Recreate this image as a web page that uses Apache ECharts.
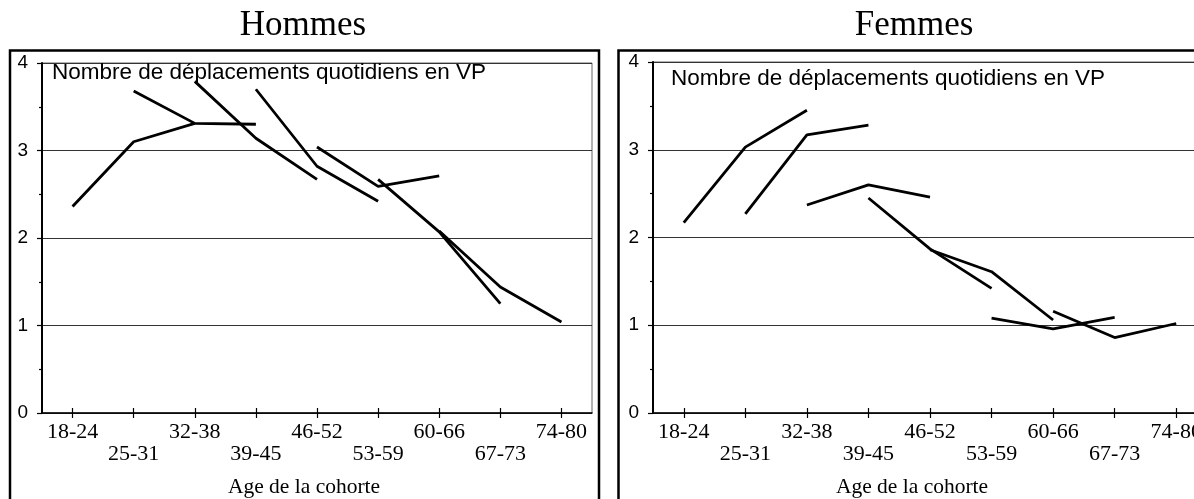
<!DOCTYPE html>
<html><head><meta charset="utf-8">
<script src="https://cdn.jsdelivr.net/npm/echarts@6/dist/echarts.min.js"></script>
<style>html,body{margin:0;padding:0;background:#fff}#c{width:1194px;height:499px}</style>
</head><body><div id="c"></div>
<script>
// Age group categories (x axis)
const ageGroups = ['18-24','25-31','32-38','39-45','46-52','53-59','60-66','67-73','74-80'];
const yMin = 0, yMax = 4, yStep = 1;
const panelTitles = ['Hommes', 'Femmes'];
const innerLabel = 'Nombre de déplacements quotidiens en VP';
const xAxisTitle = 'Age de la cohorte';
// Each cohort is observed over 3 consecutive age groups, starting at its own index
const hommes = [
  [2.36, 3.10, 3.31],
  [3.68, 3.31, 3.30],
  [3.79, 3.14, 2.67],
  [3.70, 2.82, 2.42],
  [3.04, 2.59, 2.71],
  [2.67, 2.07, 1.25],
  [2.08, 1.44, 1.04]
];
const femmes = [
  [2.17, 3.03, 3.45],
  [2.27, 3.17, 3.28],
  [2.37, 2.60, 2.46],
  [2.45, 1.87, 1.42],
  [1.86, 1.61, 1.06],
  [1.08, 0.96, 1.09],
  [1.16, 0.86, 1.02]
];

const SERIF = '"Liberation Serif","Times New Roman",serif';
const SANS = '"Liberation Sans",Arial,sans-serif';

function cohortSeries(cohorts, axisIdx) {
  return cohorts.map((vals, i) => {
    const d = ageGroups.map(() => null);
    vals.forEach((v, k) => { d[i + k] = v; });
    return {
      type: 'line', xAxisIndex: axisIdx, yAxisIndex: axisIdx, data: d,
      symbol: 'none', connectNulls: false, silent: true,
      lineStyle: { color: '#000', width: 2.8 }
    };
  });
}

function mainX(gi) {
  return {
    type: 'category', gridIndex: gi, data: ageGroups, boundaryGap: true,
    axisLine: { show: true, lineStyle: { color: '#000', width: 1.5 } },
    axisTick: { show: true, alignWithLabel: true, length: 5, lineStyle: { color: '#000', width: 1.2 } },
    axisLabel: {
      color: '#000', fontFamily: SERIF, fontSize: 22, lineHeight: 22, margin: 8,
      interval: 0, hideOverlap: false,
      formatter: (v, idx) => (idx % 2 ? '\n' + v : v)
    },
    splitLine: { show: false }
  };
}
function tickX(gi) {
  return {
    type: 'category', gridIndex: gi, data: ageGroups, boundaryGap: true,
    position: 'bottom',
    axisLine: { show: false },
    axisTick: { show: true, inside: true, alignWithLabel: true, length: 5, lineStyle: { color: '#000', width: 1.2 } },
    axisLabel: { show: false }, splitLine: { show: false }
  };
}
function mainY(gi) {
  return {
    type: 'value', gridIndex: gi, min: yMin, max: yMax, interval: yStep,
    axisLine: { show: true, lineStyle: { color: '#000', width: 2 } },
    axisTick: { show: true, length: 5, lineStyle: { color: '#000', width: 1.2 } },
    minorTick: { show: true, splitNumber: 2, length: 3, lineStyle: { color: '#000', width: 1.2 } },
    axisLabel: { color: '#000', fontFamily: SANS, fontSize: 19, margin: 14 },
    splitLine: { show: true, lineStyle: { color: '#333', width: 1.2 } }
  };
}

const chart = echarts.init(document.getElementById('c'), null, { renderer: 'canvas' });
chart.setOption({
  animation: false,
  backgroundColor: '#fff',
  grid: [
    { left: 42, top: 63, width: 550, height: 350, show: true, borderColor: '#666', borderWidth: 1, outerBoundsMode: 'none', containLabel: false },
    { left: 653, top: 62, width: 554, height: 351, show: true, borderColor: '#666', borderWidth: 1, outerBoundsMode: 'none', containLabel: false }
  ],
  xAxis: [mainX(0), mainX(1), tickX(0), tickX(1)],
  yAxis: [mainY(0), mainY(1)],
  series: [...cohortSeries(hommes, 0), ...cohortSeries(femmes, 1)],
  graphic: [
    { type: 'rect', shape: { x: 10, y: 50.5, width: 589, height: 480 }, style: { fill: 'none', stroke: '#000', lineWidth: 2.5 }, z: 100 },
    { type: 'rect', shape: { x: 618.5, y: 50.5, width: 600, height: 480 }, style: { fill: 'none', stroke: '#000', lineWidth: 2.5 }, z: 100 },
    { type: 'text', x: 303, y: 26, style: { text: panelTitles[0], font: '35px ' + SERIF, fill: '#000', textAlign: 'center', textVerticalAlign: 'middle', align: 'center', verticalAlign: 'middle' }, z: 100 },
    { type: 'text', x: 914, y: 26, style: { text: panelTitles[1], font: '35px ' + SERIF, fill: '#000', textAlign: 'center', textVerticalAlign: 'middle', align: 'center', verticalAlign: 'middle' }, z: 100 },
    { type: 'text', x: 52, y: 72.5, style: { text: innerLabel, font: '22.5px ' + SANS, fill: '#000', textAlign: 'left', textVerticalAlign: 'middle', align: 'left', verticalAlign: 'middle' }, z: 100 },
    { type: 'text', x: 671, y: 78.5, style: { text: innerLabel, font: '22.5px ' + SANS, fill: '#000', textAlign: 'left', textVerticalAlign: 'middle', align: 'left', verticalAlign: 'middle' }, z: 100 },
    { type: 'text', x: 304, y: 487, style: { text: xAxisTitle, font: '21.5px ' + SERIF, fill: '#000', textAlign: 'center', textVerticalAlign: 'middle', align: 'center', verticalAlign: 'middle' }, z: 100 },
    { type: 'text', x: 912, y: 487, style: { text: xAxisTitle, font: '21.5px ' + SERIF, fill: '#000', textAlign: 'center', textVerticalAlign: 'middle', align: 'center', verticalAlign: 'middle' }, z: 100 }
  ]
});
</script>
</body></html>
